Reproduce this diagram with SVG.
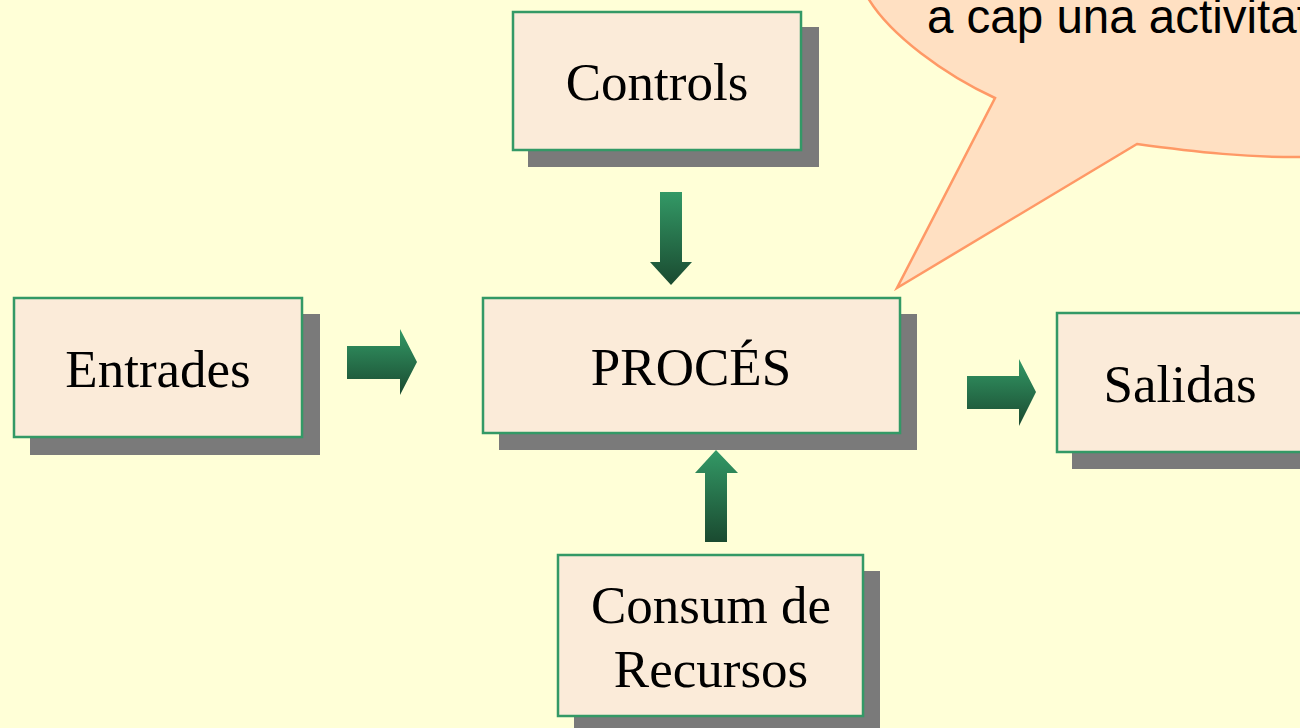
<svg xmlns="http://www.w3.org/2000/svg" width="1300" height="728" viewBox="0 0 1300 728">
  <defs>
    <linearGradient id="g" x1="0" y1="0" x2="0" y2="1">
      <stop offset="0" stop-color="#339966"/>
      <stop offset="1" stop-color="#1A4A30"/>
    </linearGradient>
    <style>
      .shadow { fill: #7A7A7A; }
      .box { fill: #FBEBD9; stroke: #339966; stroke-width: 2.5; }
      .lbl { font-family: "Liberation Serif", "Times New Roman", serif; font-size: 53px; fill: #000; text-anchor: middle; }
      .arrow { fill: url(#g); }
      .callout { fill: #FFE0C2; stroke: #FF9966; stroke-width: 2.5; }
      .ctext { font-family: "Liberation Sans", Arial, sans-serif; font-size: 47.5px; fill: #000; }
    </style>
  </defs>
  <rect width="1300" height="728" fill="#FFFFD7"/>

  <g id="callout">
    <path class="callout" d="M 868 -2 C 890 35 945 75 995 98 L 897 288 L 1137 144 C 1195 152 1250 158 1310 157 L 1312 -8 L 866 -8 Z"/>
    <text class="ctext" x="927" y="33">a cap una activitat</text>
  </g>

  <g id="connectors">
    <path class="arrow" d="M 347 346 H 400 V 329 L 417 362 L 400 395 V 379 H 347 Z"/>
    <path class="arrow" d="M 660 192 H 682 V 262 H 692 L 671 285 L 650 262 H 660 Z"/>
    <path class="arrow" d="M 967 376 H 1019 V 359 L 1036 392 L 1019 426 V 409 H 967 Z"/>
    <path class="arrow" d="M 716 450 L 738 473 H 727 V 542 H 705 V 473 H 695 Z"/>
  </g>

  <g id="controls">
    <rect class="shadow" x="528" y="27" width="291" height="140"/>
    <rect class="box" x="513" y="12" width="288" height="138"/>
    <text class="lbl" x="657" y="100">Controls</text>
  </g>

  <g id="entrades">
    <rect class="shadow" x="30" y="314" width="290" height="141"/>
    <rect class="box" x="14" y="298" width="288" height="139"/>
    <text class="lbl" x="158" y="387">Entrades</text>
  </g>

  <g id="proces">
    <rect class="shadow" x="499" y="314" width="418" height="136"/>
    <rect class="box" x="483" y="298" width="417" height="135"/>
    <text class="lbl" x="691" y="385">PROCÉS</text>
  </g>

  <g id="salidas">
    <rect class="shadow" x="1072" y="329" width="250" height="140"/>
    <rect class="box" x="1057" y="313" width="250" height="139"/>
    <text class="lbl" x="1180" y="402">Salidas</text>
  </g>

  <g id="consum">
    <rect class="shadow" x="574" y="571" width="306" height="162"/>
    <rect class="box" x="558" y="555" width="305" height="161"/>
    <text class="lbl" x="711" y="623">Consum de</text>
    <text class="lbl" x="711" y="687">Recursos</text>
  </g>
</svg>
